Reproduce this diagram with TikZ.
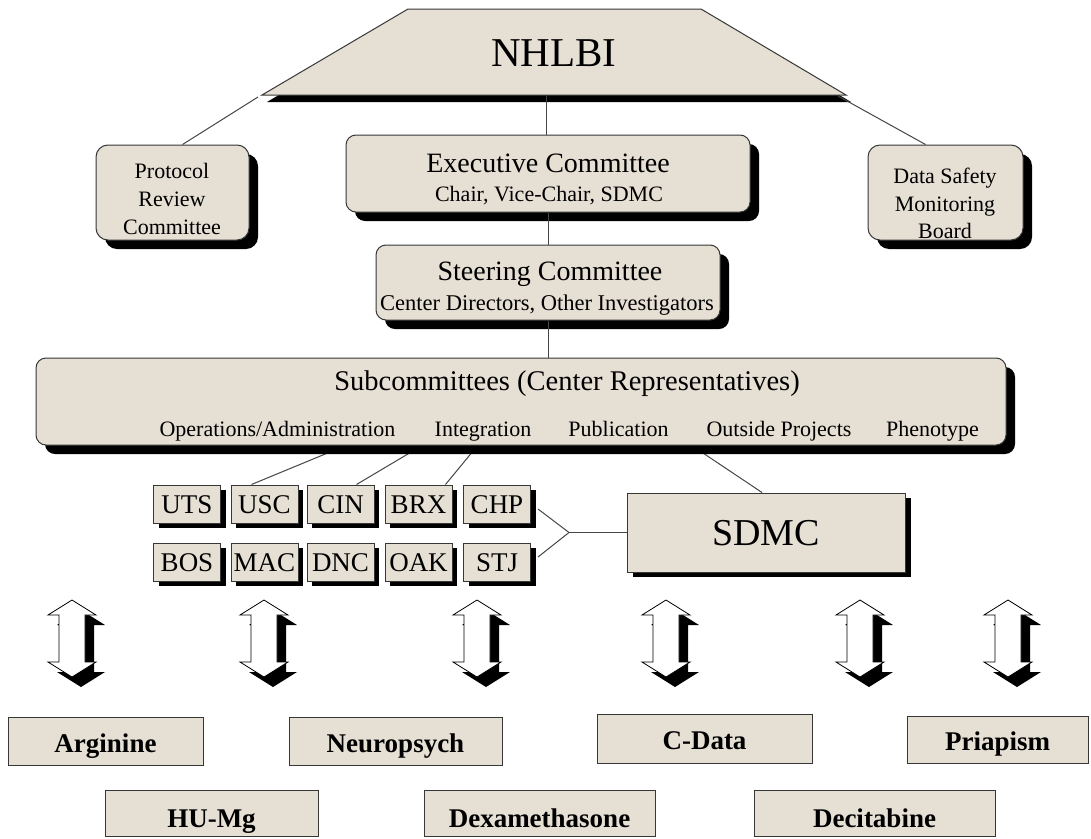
\documentclass[tikz,border=0pt]{standalone}
\usepackage{fontspec}
\setmainfont{Liberation Serif}
\usetikzlibrary{shadows}
\definecolor{tanfill}{RGB}{229,223,212}
\definecolor{edgecol}{RGB}{55,55,55}
\definecolor{linecol}{RGB}{70,70,70}
\begin{document}
\begin{tikzpicture}[x=1pt,y=-1pt,
  box/.style={draw=edgecol,fill=tanfill,line width=1pt,inner sep=0pt},
  bigshadow/.style={drop shadow={shadow xshift=9pt,shadow yshift=-9pt,fill=black,opacity=1}},
  rbox/.style={box,rounded corners=12pt,bigshadow},
  codebox/.style={box,minimum width=67pt,minimum height=38pt,font=\fontsize{27}{27}\selectfont,
    text height=18pt,text depth=0pt,drop shadow={shadow xshift=5pt,shadow yshift=-5pt,fill=black,opacity=1}},
  trialA/.style={box,font=\bfseries\fontsize{27}{27}\selectfont,text height=22pt,text depth=0pt},
  trialB/.style={box,font=\bfseries\fontsize{27}{27}\selectfont,text height=28pt,text depth=0pt},
  txt/.style={inner sep=0pt,anchor=base},
  fbig/.style={font=\fontsize{28}{28}\selectfont},
  fsmall/.style={font=\fontsize{22}{22}\selectfont},
  conn/.style={draw=linecol,line width=1pt},
  dblarrow/.pic={
    \fill[black,shift={(9,10)}] (0,0)--(24,15)--(13,15)--(13,62)--(24,62)--(0,77)--(-24,62)--(-13,62)--(-13,15)--(-24,15)--cycle;
    \filldraw[fill=white,draw=black,line width=0.8pt] (0,0)--(24,15)--(13,15)--(13,62)--(24,62)--(0,77)--(-24,62)--(-13,62)--(-13,15)--(-24,15)--cycle;
  }]
\useasboundingbox[fill=white] (0,0) rectangle (1091,838);

% NHLBI trapezoid
\fill[black,shift={(5,7)}] (408,9)--(701,9)--(846,95)--(262,95)--cycle;
\filldraw[fill=tanfill,draw=edgecol,line width=1pt] (408,9)--(701,9)--(846,95)--(262,95)--cycle;
\node[inner sep=0pt,font=\fontsize{41}{41}\selectfont] (nhlbi) at (554,53) {NHLBI};
\coordinate (tl) at (258,97);
\coordinate (tm) at (546,96);
\coordinate (tr) at (838,96);

% upper boxes
\node[rbox,minimum width=153pt,minimum height=95pt] (prc) at (172.5,192.5) {};
\node[rbox,minimum width=155pt,minimum height=95pt] (dsmb) at (945.5,192.5) {};
\node[rbox,rounded corners=10pt,minimum width=404pt,minimum height=77pt] (exec) at (548,173.5) {};
\node[rbox,rounded corners=10pt,minimum width=344pt,minimum height=75pt] (steer) at (548,282.5) {};

% connectors top
\draw[conn] (tl) -- ([xshift=10pt]prc.north);
\draw[conn] (tr) -- ([xshift=-20pt]dsmb.north);
\draw[conn] (tm) -- (tm |- exec.north);
\draw[conn] (exec.south) -- (steer.north);

% texts in upper boxes
\node[txt,fsmall] (prc1) at (172,178) {Protocol};
\node[txt,fsmall] (prc2) at (172,206) {Review};
\node[txt,fsmall] (prc3) at (172,234) {Committee};
\node[txt,fsmall] (ds1) at (945,183) {Data Safety};
\node[txt,fsmall] (ds2) at (945,211) {Monitoring};
\node[txt,fsmall] (ds3) at (945,238) {Board};
\node[txt,fbig] (exect) at (548,172) {Executive Committee};
\node[txt,fsmall] (execs) at (549,201) {Chair, Vice-Chair, SDMC};
\node[txt,fbig] (steert) at (550,280) {Steering Committee};
\node[txt,font=\fontsize{22.5}{22.5}\selectfont] (steers) at (547,310) {Center Directors, Other Investigators};

% subcommittees
\coordinate (s1) at (347,445);
\coordinate (s2) at (423,445);
\coordinate (s3) at (478,445);
\coordinate (s4) at (691,445);

\node[codebox] (uts) at (187,504) {UTS};
\node[codebox] (usc) at (264.5,504) {USC};
\node[codebox] (cin) at (340.5,504) {CIN};
\node[codebox] (brx) at (418.5,504) {BRX};
\node[codebox] (chp) at (497,504) {CHP};
\node[codebox] (bos) at (187,562) {BOS};
\node[codebox] (mac) at (264.5,562) {MAC};
\node[codebox] (dnc) at (340.5,562) {DNC};
\node[codebox] (oak) at (418.5,562) {OAK};
\node[codebox] (stj) at (497,562) {STJ};

\node[box,minimum width=278pt,minimum height=79pt,font=\fontsize{38}{38}\selectfont,text height=25pt,text depth=0pt,
  drop shadow={shadow xshift=6pt,shadow yshift=-5pt,fill=black,opacity=1}] (sdmc) at (766,532.5) {SDMC};

\draw[conn] (s1) -- ([xshift=-13pt]usc.north);
\draw[conn] (s2) -- ([xshift=16pt]cin.north);
\draw[conn] (s3) -- ([xshift=27pt]brx.north);
\draw[conn] (s4) -- ([xshift=-4pt]sdmc.north);

\node[rbox,rounded corners=10pt,minimum width=970pt,minimum height=87pt] (sub) at (521,401.5) {};
\draw[conn] (steer.south) -- (steer.south |- sub.north);
\node[txt,font=\fontsize{28.5}{28.5}\selectfont] (subt) at (567,390) {Subcommittees (Center Representatives)};
\node[txt,fsmall] (op1) at (277.5,436) {Operations/Administration};
\node[txt,fsmall] (op2) at (483,436) {Integration};
\node[txt,fsmall] (op3) at (618.5,436) {Publication};
\node[txt,fsmall] (op4) at (779,436) {Outside Projects};
\node[txt,fsmall] (op5) at (932.5,436) {Phenotype};

% branch to SDMC
\coordinate (j) at (569,532.5);
\draw[conn] ([xshift=7pt,yshift=-5pt]chp.east) -- (j);
\draw[conn] ([xshift=7pt,yshift=5pt]stj.east) -- (j);
\draw[conn] (j) -- (sdmc.west);

% double arrows
\path (72,600) pic {dblarrow};
\path (264,600) pic {dblarrow};
\path (477,600) pic {dblarrow};
\path (666,600) pic {dblarrow};
\path (860,600) pic {dblarrow};
\path (1008,600) pic {dblarrow};

% trials
\node[trialA,minimum width=195pt,minimum height=48pt] (arg) at (105.5,741) {Arginine};
\node[trialA,minimum width=213pt,minimum height=48pt] (neu) at (395.5,741) {Neuropsych};
\node[trialA,minimum width=215pt,minimum height=49pt] (cdata) at (704.5,738.5) {C-Data};
\node[trialA,minimum width=181pt,minimum height=47pt] (pri) at (997.5,739.5) {Priapism};
\node[trialB,minimum width=213pt,minimum height=46pt] (hu) at (211.5,813) {HU-Mg};
\node[trialB,minimum width=231pt,minimum height=46pt] (dex) at (539.5,813) {Dexamethasone};
\node[trialB,minimum width=241pt,minimum height=46pt] (dec) at (874.5,813) {Decitabine};
\end{tikzpicture}
\end{document}
